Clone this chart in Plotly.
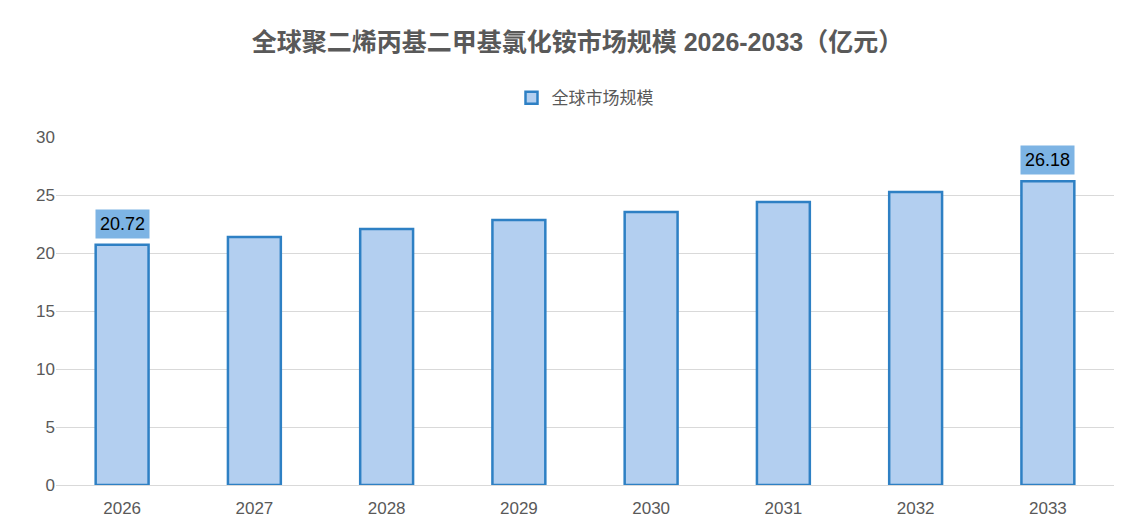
import plotly.graph_objects as go

years = ["2026", "2027", "2028", "2029", "2030", "2031", "2032", "2033"]
market_size = [20.72, 21.38, 22.07, 22.84, 23.53, 24.40, 25.26, 26.18]
labelled = ["2026", "2033"]

pos = list(range(len(years)))

fig = go.Figure()
fig.add_trace(go.Bar(
    x=pos, y=market_size, name="全球市场规模",
    marker=dict(color="#b3cff0", line=dict(color="#2e80c4", width=2.5)),
))

for i, (yr, v) in enumerate(zip(years, market_size)):
    if yr in labelled:
        fig.add_annotation(x=i, y=v, text=f"{v:.2f}", showarrow=False, yshift=21,
                           bgcolor="#7db4e4", font=dict(size=18, color="#000"),
                           borderpad=4)

fig.update_layout(
    width=1139, height=531,
    paper_bgcolor="white", plot_bgcolor="white",
    font=dict(family="Liberation Sans, Noto Sans CJK SC", color="#595959"),
    title=dict(text="<b>全球聚二烯丙基二甲基氯化铵市场规模 2026-2033（亿元）</b>",
               x=0.5, y=0.935, xanchor="center", yanchor="middle",
               font=dict(size=25, color="#595959")),
    legend=dict(orientation="h", x=0.5, xanchor="center", y=1.06, yanchor="bottom",
                font=dict(size=17, color="#595959")),
    showlegend=True,
    margin=dict(l=48, r=33, t=129, b=54),
    bargap=0.6,
    xaxis=dict(tickvals=pos, ticktext=years, range=[-0.5, len(years) - 0.5],
               tickfont=dict(size=17), showline=True, linecolor="#d9d9d9",
               ticks="outside", ticklen=8, tickcolor="rgba(0,0,0,0)",
               automargin=False),
    yaxis=dict(range=[0, 30], dtick=5, gridcolor="#d9d9d9", tickfont=dict(size=17),
               zeroline=False, automargin=False),
)

fig.write_html("out.html")
